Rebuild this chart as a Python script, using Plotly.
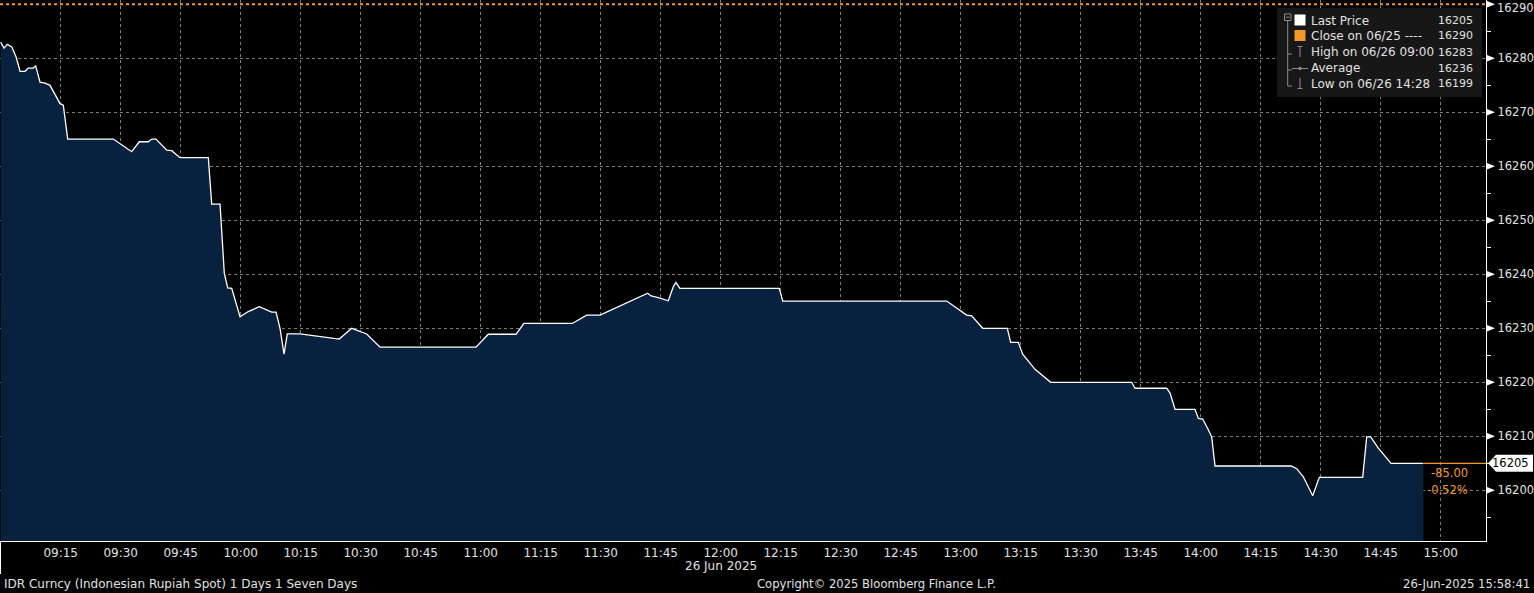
import plotly.graph_objects as go

# ---------------- data ----------------
trade_date = "2025-06-26"
times = [
    "09:00:00", "09:00:50", "09:01:39", "09:02:45", "09:03:50", "09:04:50", "09:06:05", "09:06:54",
    "09:08:09", "09:08:45", "09:09:50", "09:11:05", "09:12:20", "09:13:09", "09:14:00", "09:14:50",
    "09:15:39", "09:16:45", "09:28:09", "09:32:45", "09:34:39", "09:36:54", "09:37:45", "09:38:50",
    "09:41:30", "09:42:45", "09:44:50", "09:51:54", "09:52:45", "09:54:50", "09:55:54", "09:56:45",
    "09:57:45", "09:59:50", "10:01:54", "10:04:39", "10:07:45", "10:08:50", "10:09:50", "10:10:50",
    "10:11:39", "10:14:50", "10:24:39", "10:27:45", "10:31:30", "10:34:50", "10:58:50", "11:01:54",
    "11:08:50", "11:10:50", "11:22:54", "11:26:30", "11:29:50", "11:41:45", "11:42:36", "11:44:24",
    "11:46:54", "11:48:09", "11:48:48", "11:49:48", "12:14:39", "12:15:30", "12:56:30", "12:59:50",
    "13:01:30", "13:02:45", "13:05:30", "13:11:39", "13:12:30", "13:14:24", "13:15:30", "13:18:35",
    "13:22:30", "13:42:45", "13:43:35", "13:51:30", "13:52:20", "13:53:35", "13:58:35", "13:59:24",
    "14:00:30", "14:01:54", "14:02:45", "14:03:35", "14:22:35", "14:24:00", "14:25:39", "14:28:00",
    "14:29:39", "14:40:30", "14:41:30", "14:42:30", "14:44:24", "14:47:35", "14:55:39",
]
prices = [
    16283.0, 16281.9, 16282.6, 16282.1, 16280.3, 16277.6, 16277.6, 16278.2,
    16278.2, 16278.6, 16275.6, 16275.4, 16275.0, 16273.9, 16272.5, 16271.6,
    16271.3, 16265.05, 16265.05, 16262.7, 16264.55, 16264.55, 16265.05, 16265.05,
    16263.0, 16262.9, 16261.6, 16261.6, 16253.0, 16253.0, 16240.2, 16237.5,
    16237.4, 16232.15, 16233.1, 16234.0, 16233.0, 16233.0, 16230.0, 16225.2,
    16228.95, 16228.95, 16228.0, 16230.0, 16228.95, 16226.5, 16226.5, 16228.9,
    16228.9, 16230.9, 16230.9, 16232.45, 16232.45, 16236.5, 16236.0, 16235.7,
    16235.1, 16237.7, 16238.5, 16237.4, 16237.4, 16235.05, 16235.05, 16233.25,
    16232.45, 16232.3, 16230.0, 16230.0, 16227.4, 16227.4, 16225.2, 16222.4,
    16220.0, 16220.0, 16218.9, 16218.9, 16218.0, 16215.0, 16215.0, 16213.3,
    16213.2, 16211.2, 16209.9, 16204.5, 16204.5, 16204.0, 16202.5, 16199.0,
    16202.4, 16202.4, 16209.9, 16209.9, 16207.8, 16205.0, 16205.0,
]
last_price = 16205
prev_close = 16290

xtick_times = ["09:00", "09:15", "09:30", "09:45", "10:00", "10:15", "10:30", "10:45", "11:00",
               "11:15", "11:30", "11:45", "12:00", "12:15", "12:30", "12:45", "13:00", "13:15",
               "13:30", "13:45", "14:00", "14:15", "14:30", "14:45", "15:00"]
ytick_vals = [16200, 16210, 16220, 16230, 16240, 16250, 16260, 16270, 16280, 16290]

legend_labels = ["Last Price", "Close on 06/25 ----", "High on 06/26 09:00", "Average", "Low on 06/26 14:28"]
legend_values = ["16205", "16290", "16283", "16236", "16199"]

footer_left = "IDR Curncy (Indonesian Rupiah Spot) 1 Days 1 Seven Days"
footer_mid = "Copyright\u00a9 2025 Bloomberg Finance L.P."
footer_right = "26-Jun-2025 15:58:41"
date_label = "26 Jun 2025"

# ---------------- styling / geometry ----------------
W_PLOT, H_PLOT = 1486, 541
ORANGE = "#f39a25"
GRID = "#7d7d7d"
TXT = "#e0e0e0"
FONT = "DejaVu Sans"


def px(x):
    return x / W_PLOT


def py(y):
    return 1 - y / H_PLOT


x_full = [f"{trade_date} {t}" for t in times]
x_range = [f"{trade_date} 08:59:49.5", f"{trade_date} 15:11:19.5"]
y_range = [16190.61, 16290.8]
units_per_px = (y_range[1] - y_range[0]) / H_PLOT
top_tick = max(ytick_vals)

fig = go.Figure()
fig.add_trace(go.Scatter(
    x=x_full, y=prices, mode="lines",
    line=dict(color="white", width=1.3),
    fill="tozeroy", fillcolor="#08213f",
    hoverinfo="skip",
))

shapes = []
# previous close dotted line
shapes.append(dict(type="line", xref="paper", yref="y", x0=0, x1=1, y0=prev_close, y1=prev_close,
                   line=dict(color=ORANGE, width=2, dash="dot"), layer="above"))
# last price extension
shapes.append(dict(type="line", xref="x", yref="y", x0=x_full[-1], x1=x_range[1],
                   y0=last_price, y1=last_price, line=dict(color=ORANGE, width=1.3)))
# y tick arrows
for v in ytick_vals:
    h = 3.2 * units_per_px
    shapes.append(dict(type="path", xref="paper", yref="y",
                       path=f"M {px(1487)},{v - h} L {px(1495)},{v} L {px(1487)},{v + h} Z",
                       fillcolor="white", line=dict(width=0)))
# last price box
hb = 8.5 * units_per_px
shapes.append(dict(type="path", xref="paper", yref="y",
                   path=(f"M {px(1488)},{last_price} L {px(1496)},{last_price + hb} "
                         f"L {px(1533)},{last_price + hb} L {px(1533)},{last_price - hb} "
                         f"L {px(1496)},{last_price - hb} Z"),
                   fillcolor="white", line=dict(width=0)))
# left stub below axis
shapes.append(dict(type="line", xref="paper", yref="paper", x0=px(0.5), x1=px(0.5), y0=py(541), y1=py(574),
                   line=dict(color="white", width=1)))
# legend box
shapes.append(dict(type="rect", xref="paper", yref="paper", x0=px(1277), x1=px(1482), y0=py(8), y1=py(97),
                   fillcolor="#171717", line=dict(width=0), layer="above"))
LG = "#8c8c8c"
# tree
shapes.append(dict(type="rect", xref="paper", yref="paper", x0=px(1284.5), x1=px(1291), y0=py(14), y1=py(20.5),
                   line=dict(color=LG, width=1), layer="above"))
shapes.append(dict(type="line", xref="paper", yref="paper", x0=px(1285.8), x1=px(1289.8), y0=py(17.2), y1=py(17.2),
                   line=dict(color=LG, width=1), layer="above"))
shapes.append(dict(type="line", xref="paper", yref="paper", x0=px(1287.7), x1=px(1287.7), y0=py(20.5), y1=py(86),
                   line=dict(color=LG, width=1), layer="above"))
row_y = [20.5, 36, 52, 68, 84]
for ry in row_y[2:]:
    shapes.append(dict(type="line", xref="paper", yref="paper", x0=px(1287.7), x1=px(1292), y0=py(ry + 2), y1=py(ry + 2),
                       line=dict(color=LG, width=1), layer="above"))
# squares
shapes.append(dict(type="rect", xref="paper", yref="paper", x0=px(1294.5), x1=px(1305.5), y0=py(14.5), y1=py(25.5),
                   fillcolor="white", line=dict(width=0), layer="above"))
shapes.append(dict(type="rect", xref="paper", yref="paper", x0=px(1294.5), x1=px(1305.5), y0=py(30), y1=py(41),
                   fillcolor=ORANGE, line=dict(width=0), layer="above"))
# high icon
shapes.append(dict(type="line", xref="paper", yref="paper", x0=px(1300), x1=px(1300), y0=py(46.5), y1=py(57),
                   line=dict(color=LG, width=1), layer="above"))
shapes.append(dict(type="line", xref="paper", yref="paper", x0=px(1297.5), x1=px(1302.5), y0=py(46.5), y1=py(46.5),
                   line=dict(color=LG, width=1), layer="above"))
# average icon
shapes.append(dict(type="line", xref="paper", yref="paper", x0=px(1292), x1=px(1308), y0=py(68.5), y1=py(68.5),
                   line=dict(color=LG, width=1), layer="above"))
shapes.append(dict(type="circle", xref="paper", yref="paper", x0=px(1298.3), x1=px(1301.7), y0=py(66.8), y1=py(70.2),
                   fillcolor=LG, line=dict(width=0), layer="above"))
# low icon
shapes.append(dict(type="line", xref="paper", yref="paper", x0=px(1300), x1=px(1300), y0=py(78), y1=py(88.5),
                   line=dict(color=LG, width=1), layer="above"))
shapes.append(dict(type="line", xref="paper", yref="paper", x0=px(1297.5), x1=px(1302.5), y0=py(88.5), y1=py(88.5),
                   line=dict(color=LG, width=1), layer="above"))

annotations = []
for lbl, val, ry in zip(legend_labels, legend_values, row_y):
    annotations.append(dict(xref="paper", yref="paper", x=px(1309), y=py(ry), text=lbl, showarrow=False,
                            xanchor="left", yanchor="middle", font=dict(family=FONT, size=12, color=TXT)))
    annotations.append(dict(xref="paper", yref="paper", x=px(1475), y=py(ry), text=val, showarrow=False,
                            xanchor="right", yanchor="middle", font=dict(family=FONT, size=11, color=TXT)))

change = last_price - prev_close
pct = change / prev_close * 100
annotations.append(dict(xref="paper", yref="paper", x=px(1470), y=py(472.5), text=f"{change:.2f}", showarrow=False,
                        xanchor="right", yanchor="middle", font=dict(family=FONT, size=11.5, color=ORANGE)))
annotations.append(dict(xref="paper", yref="paper", x=px(1470), y=py(489.5), text=f"{pct:.2f}%", showarrow=False,
                        xanchor="right", yanchor="middle", font=dict(family=FONT, size=11.5, color=ORANGE)))
annotations.append(dict(xref="paper", yref="y", x=px(1531), y=last_price, text=str(last_price), showarrow=False,
                        xanchor="right", yanchor="middle", font=dict(family=FONT, size=11.5, color="black")))
# top tick label (nudged down so it stays inside the page)
annotations.append(dict(xref="paper", yref="paper", x=px(1495), y=py(8.5), text=str(top_tick), showarrow=False,
                        xanchor="left", yanchor="middle", font=dict(family=FONT, size=11.5, color=TXT)))
annotations.append(dict(xref="x", yref="paper", x=f"{trade_date} 12:00", y=py(566), text=date_label, showarrow=False,
                        xanchor="center", yanchor="middle", font=dict(family=FONT, size=12, color=TXT)))
annotations.append(dict(xref="paper", yref="paper", x=px(2), y=py(584), text=footer_left, showarrow=False,
                        xanchor="left", yanchor="middle", font=dict(family=FONT, size=12, color=TXT)))
annotations.append(dict(xref="paper", yref="paper", x=px(877), y=py(584), text=footer_mid, showarrow=False,
                        xanchor="center", yanchor="middle", font=dict(family=FONT, size=11.6, color=TXT)))
annotations.append(dict(xref="paper", yref="paper", x=px(1532), y=py(584), text=footer_right, showarrow=False,
                        xanchor="right", yanchor="middle", font=dict(family=FONT, size=11.6, color=TXT)))

fig.update_layout(
    width=1534, height=593,
    margin=dict(l=0, r=1534 - W_PLOT, t=0, b=593 - H_PLOT, pad=0),
    paper_bgcolor="black", plot_bgcolor="black",
    showlegend=False,
    shapes=shapes, annotations=annotations,
    xaxis=dict(
        range=x_range, type="date",
        tickvals=[f"{trade_date} {t}" for t in xtick_times],
        ticktext=[""] + xtick_times[1:],
        showgrid=True, gridcolor=GRID, griddash="dot", gridwidth=1,
        showline=True, linecolor="white", linewidth=1.3,
        ticks="", tickfont=dict(family=FONT, size=12, color=TXT),
        zeroline=False, fixedrange=True, automargin=False,
    ),
    yaxis=dict(
        range=y_range, side="right",
        tickvals=ytick_vals, ticktext=["" if v == top_tick else str(v) for v in ytick_vals],
        showgrid=True, gridcolor=GRID, griddash="dot", gridwidth=1,
        showline=True, linecolor="white", linewidth=1.3,
        ticks="outside", ticklen=8, tickcolor="rgba(0,0,0,0)",
        tickfont=dict(family=FONT, size=11.5, color=TXT),
        minor=dict(tickvals=[v - 5 for v in ytick_vals], ticks="outside", ticklen=4, tickcolor="white", showgrid=False),
        zeroline=False, fixedrange=True, automargin=False,
    ),
)

fig.write_html("out.html", config={"displayModeBar": False},
               post_script="document.body.style.margin='0';document.body.style.overflow='hidden';")
